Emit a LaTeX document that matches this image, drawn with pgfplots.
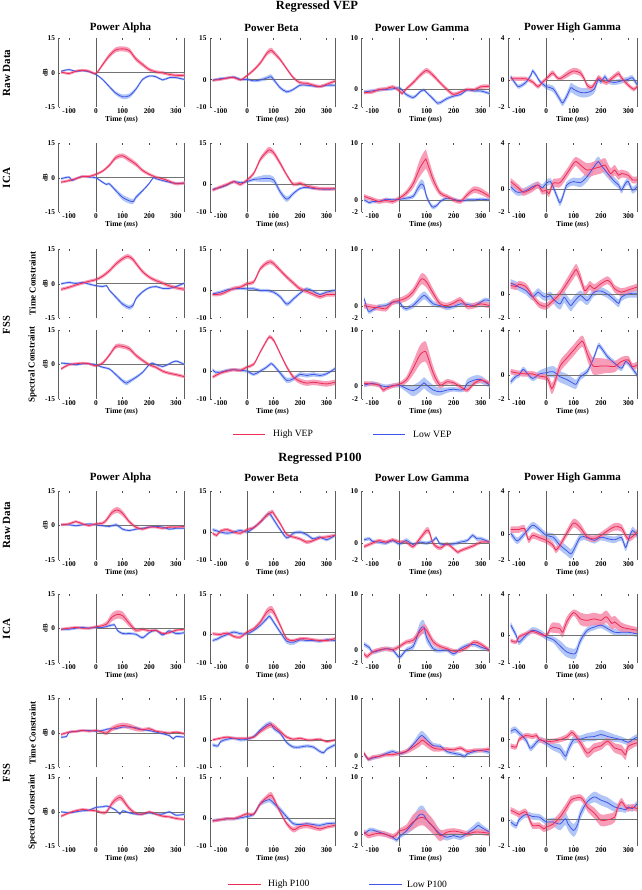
\documentclass[border=0pt]{standalone}
\usepackage{fontspec}
\setmainfont{Liberation Serif}
\usepackage{pgfplots}
\pgfplotsset{compat=1.18}
\usepgfplotslibrary{fillbetween}
\definecolor{rl}{RGB}{236,45,85}
\definecolor{rb}{RGB}{247,140,172}
\definecolor{bl}{RGB}{65,85,232}
\definecolor{bb}{RGB}{168,192,246}
\definecolor{axc}{RGB}{95,95,95}
\newcommand{\fs}[1]{\fontsize{#1}{#1}\selectfont}
\pgfplotsset{
 panel/.style={scale only axis, height=69pt, anchor=north west,
  xmin=-140, xmax=332, xtick={-100,0,100,200,300}, xticklabels={},
  axis line style={draw=none},
  extra x ticks={-140,332}, extra x tick labels={},
  extra x tick style={grid=major, major grid style={draw=axc, line width=0.8pt}, major tick length=0pt},
  xtick pos=both, ytick pos=left, tick align=inside, major tick length=1.6pt,
  tick style={draw=black!70, line width=0.5pt},
  tick label style={font=\fs{7.3}\bfseries},
  xlabel style={font=\fs{7.6}\bfseries, inner sep=1pt},
  ylabel style={font=\fs{6.8}\bfseries, inner sep=1pt},
  ylabel shift=-7pt,
  xticklabel style={inner sep=1.5pt}},
 cA/.style={width=126pt, yticklabels={-15,0,15}, ylabel={dB}},
 cB/.style={width=125pt, yticklabels={-10,0,15}},
 cC/.style={width=128pt, yticklabels={-2,0,10}},
 cD/.style={width=129pt, yticklabels={-2,0,4}},
 xl/.style={xticklabels={-100,0,100,200,300}, xlabel={Time (\textit{ms})}},
 zl/.style={draw=axc, line width=0.6pt, forget plot},
}
\newcommand{\panel}[5]{%
\begin{axis}[panel, ymin=#2, ymax=#3, ytick={#2,0,#3}, #1]
\addplot[zl] coordinates {(0,#2) (0,#3)};
\addplot[zl, draw=black!55] coordinates {(0,0) (332,0)};
\addplot[draw=none, name path=bu, smooth, forget plot] table[row sep=\\, y expr=\thisrow{y}+\thisrow{e}] {#5};
\addplot[draw=none, name path=bd, smooth, forget plot] table[row sep=\\, y expr=\thisrow{y}-\thisrow{e}] {#5};
\addplot[fill=bb, draw=none, fill opacity=0.9] fill between[of=bu and bd];
\addplot[draw=none, name path=ru, smooth, forget plot] table[row sep=\\, y expr=\thisrow{y}+\thisrow{e}] {#4};
\addplot[draw=none, name path=rd, smooth, forget plot] table[row sep=\\, y expr=\thisrow{y}-\thisrow{e}] {#4};
\addplot[fill=rb, draw=none, fill opacity=0.85] fill between[of=ru and rd];
\addplot[bl, line width=0.8pt, smooth] table[row sep=\\] {#5};
\addplot[rl, line width=0.8pt, smooth] table[row sep=\\] {#4};
\end{axis}}
\begin{document}
\begin{tikzpicture}
\path (0,0) rectangle (641pt,-890pt);
% ---------------- titles ----------------
\node[inner sep=0pt, font=\fs{12.5}\bfseries] at (317pt,-6.5pt) {Regressed VEP};
\node[inner sep=0pt, font=\fs{12.5}\bfseries] at (320pt,-459pt) {Regressed P100};
\foreach \yy in {27.5,478} {
 \node[inner sep=0pt, font=\fs{11}\bfseries] at (120.5pt,-\yy pt) {Power Alpha};
 \node[inner sep=0pt, font=\fs{11}\bfseries] at (271.5pt,-\yy pt) {Power Beta};
 \node[inner sep=0pt, font=\fs{11}\bfseries] at (422pt,-\yy pt) {Power Low Gamma};
 \node[inner sep=0pt, font=\fs{11}\bfseries] at (572.5pt,-\yy pt) {Power High Gamma};
}
\node[inner sep=0pt, rotate=90, font=\fs{11}\bfseries] at (6.5pt,-73pt) {Raw Data};
\node[inner sep=0pt, rotate=90, font=\fs{11}\bfseries] at (6.5pt,-178pt) {ICA};
\node[inner sep=0pt, rotate=90, font=\fs{10.5}\bfseries] at (6.5pt,-325pt) {FSS};
\node[inner sep=0pt, rotate=90, font=\fs{9}\bfseries] at (32.5pt,-283.5pt) {Time Constraint};
\node[inner sep=0pt, rotate=90, font=\fs{9}\bfseries] at (32.5pt,-364.5pt) {Spectral Constraint};
\node[inner sep=0pt, rotate=90, font=\fs{11}\bfseries] at (6.5pt,-525pt) {Raw Data};
\node[inner sep=0pt, rotate=90, font=\fs{11}\bfseries] at (6.5pt,-629pt) {ICA};
\node[inner sep=0pt, rotate=90, font=\fs{10.5}\bfseries] at (6.5pt,-773pt) {FSS};
\node[inner sep=0pt, rotate=90, font=\fs{9}\bfseries] at (32.5pt,-733pt) {Time Constraint};
\node[inner sep=0pt, rotate=90, font=\fs{9}\bfseries] at (32.5pt,-812pt) {Spectral Constraint};
% legends
\draw[rl, line width=0.9pt] (233pt,-434pt) -- (265pt,-434pt);
\node[anchor=west, font=\fs{9.6}, inner sep=0pt] at (273pt,-434pt) {High VEP};
\draw[bl, line width=0.9pt] (373pt,-434pt) -- (405pt,-434pt);
\node[anchor=west, font=\fs{9.6}, inner sep=0pt] at (413pt,-434pt) {Low VEP};
\draw[rl, line width=0.9pt] (228pt,-884pt) -- (261pt,-884pt);
\node[anchor=west, font=\fs{9.6}, inner sep=0pt] at (268pt,-884pt) {High P100};
\draw[bl, line width=0.9pt] (369pt,-884pt) -- (402pt,-884pt);
\node[anchor=west, font=\fs{9.6}, inner sep=0pt] at (407pt,-884pt) {Low P100};
% ================= Regressed VEP =================
% Row 1 Raw Data
\panel{cA, xl, at={(58.5pt,-38.3pt)}}{-15}{15}
{x y e\\ -130 0.3 .6\\ -100 -0.3 .6\\ -75 0.7 .6\\ -50 1.1 .6\\ -25 0.7 .6\\ 0 -0.3 .6\\ 25 3.5 .8\\ 50 7.4 1\\ 75 10 1.1\\ 100 10.4 1.1\\ 125 9.7 1.1\\ 150 6 1\\ 175 3.6 .9\\ 200 1.4 .8\\ 225 0.4 .7\\ 250 0 .7\\ 275 -0.7 .7\\ 300 -1.1 .7\\ 332 -1.1 .7\\}
{x y e\\ -130 0.7 .4\\ -100 1.4 .4\\ -75 0.6 .4\\ -50 0.9 .4\\ -25 0.4 .4\\ 0 -0.7 .4\\ 25 -2.9 .5\\ 50 -6 .6\\ 75 -8.9 .8\\ 100 -10.4 1\\ 125 -10 1\\ 150 -7.1 .8\\ 175 -2.9 .6\\ 200 -1.4 .5\\ 225 -1.7 .5\\ 250 -3.1 .5\\ 275 -2.1 .5\\ 300 -2.1 .5\\ 332 -2.9 .5\\}
\panel{cB, xl, at={(210pt,-38.3pt)}}{-10}{15}
{x y e\\ -130 -0.2 .5\\ -100 0.1 .5\\ -75 0.6 .5\\ -50 0.8 .5\\ -25 -0.1 .5\\ 0 1.5 .5\\ 25 3.5 .6\\ 50 6.1 .7\\ 75 9.6 .9\\ 90 10.6 1\\ 100 9.9 .9\\ 125 7.3 .7\\ 150 3.9 .6\\ 175 0.7 .6\\ 200 -1.1 .6\\ 225 -1.3 .6\\ 250 -2 .6\\ 275 -2.5 .6\\ 300 -1.7 .6\\ 332 -0.5 .6\\}
{x y e\\ -130 -0.2 .5\\ -100 0.4 .5\\ -75 0.6 .5\\ -50 1 .5\\ -25 0.1 .5\\ 0 0.1 .5\\ 25 -0.4 .5\\ 50 -0.1 .6\\ 75 0.6 .8\\ 90 1.1 .9\\ 100 0.1 .8\\ 125 -2.9 .6\\ 150 -4.4 .6\\ 175 -3.5 .5\\ 200 -2 .5\\ 225 -2 .5\\ 250 -2.3 .5\\ 275 -2.5 .5\\ 300 -2 .5\\ 332 -2 .5\\}
\panel{cC, xl, at={(361.5pt,-38.3pt)}}{-3.5}{10}
{x y e\\ -130 -0.6 .35\\ -100 -0.5 .35\\ -75 0 .35\\ -50 0.1 .35\\ -25 0.5 .35\\ 0 -0.3 .35\\ 10 -0.8 .35\\ 25 0.1 .35\\ 50 1.3 .4\\ 75 2.7 .45\\ 100 3.7 .5\\ 125 2.7 .45\\ 150 1.3 .4\\ 175 0 .4\\ 200 -1 .4\\ 225 -0.5 .35\\ 250 0 .35\\ 275 -0.1 .35\\ 300 0.5 .4\\ 332 0.6 .4\\}
{x y e\\ -130 -0.5 .35\\ -100 -0.3 .35\\ -75 -0.1 .35\\ -50 0 .3\\ -25 0.1 .3\\ 0 0.3 .3\\ 25 -1 .35\\ 50 -1.6 .35\\ 60 -1.3 .35\\ 75 -0.5 .3\\ 90 -0.1 .3\\ 100 -0.6 .3\\ 125 -1.9 .35\\ 140 -2.7 .35\\ 150 -2.6 .35\\ 175 -1.8 .35\\ 200 -1.3 .3\\ 225 -1 .3\\ 250 -0.1 .3\\ 275 -0.3 .3\\ 300 -0.3 .3\\ 332 -0.8 .3\\}
\panel{cD, xl, at={(508pt,-38.3pt)}}{-2.56}{4}
{x y e\\ -130 0.15 .2\\ -100 0.15 .2\\ -75 0.15 .2\\ -50 -0.15 .2\\ -30 -0.6 .2\\ -15 -0.2 .2\\ 0 0.15 .2\\ 15 0.55 .25\\ 25 0.7 .25\\ 40 0.25 .2\\ 50 0.15 .2\\ 75 0.55 .3\\ 100 0.9 .3\\ 125 0.7 .3\\ 140 0.1 .25\\ 150 -0.5 .25\\ 165 -0.7 .25\\ 175 -0.4 .25\\ 190 0.25 .25\\ 200 0.1 .25\\ 220 -0.2 .25\\ 250 0.4 .25\\ 265 0.65 .25\\ 275 0.25 .25\\ 300 -0.45 .2\\ 320 -0.85 .2\\ 332 -0.6 .2\\}
{x y e\\ -130 0.35 .2\\ -110 -0.4 .2\\ -100 -0.6 .2\\ -75 -0.2 .2\\ -55 0.55 .2\\ -50 0.9 .2\\ -35 0.4 .2\\ -25 -0.05 .2\\ 0 -0.6 .25\\ 25 -0.8 .3\\ 50 -1.8 .3\\ 60 -2.15 .3\\ 75 -1.5 .35\\ 90 -0.7 .45\\ 100 -0.85 .45\\ 125 -1.15 .45\\ 150 -1.15 .45\\ 175 -0.85 .4\\ 190 0.1 .3\\ 200 -0.15 .25\\ 215 0.35 .25\\ 225 -0.05 .25\\ 250 -0.2 .25\\ 275 -0.05 .25\\ 300 0.1 .25\\ 315 0.25 .25\\ 332 -0.4 .25\\}
% Row 2 ICA
\panel{cA, xl, at={(58.5pt,-143.3pt)}}{-15}{15}
{x y e\\ -130 -1.9 .6\\ -100 -1.2 .6\\ -75 -0.4 .6\\ -50 0.6 .6\\ -25 0.6 .6\\ 0 1.5 .6\\ 25 2.9 .6\\ 50 5.4 .8\\ 75 8.8 1\\ 100 9.6 1\\ 125 7.9 1.1\\ 150 5.9 1\\ 175 3.2 .8\\ 200 1.5 .7\\ 225 0.3 .6\\ 250 -0.4 .7\\ 275 -1.5 .7\\ 300 -2.6 .7\\ 332 -2.2 .7\\}
{x y e\\ -130 -0.4 .5\\ -100 0.3 .5\\ -90 -1.2 .5\\ -75 -0.4 .5\\ -50 0.6 .5\\ -25 0.3 .5\\ 0 0 .5\\ 25 -1.9 .5\\ 40 -2.9 .5\\ 50 -2.6 .6\\ 75 -5.6 .8\\ 100 -8.5 1.2\\ 125 -10 1.2\\ 140 -10.3 1.1\\ 150 -8.5 .9\\ 175 -5.6 .6\\ 200 -2.4 .5\\ 215 0 .5\\ 225 -0.4 .5\\ 250 -1.2 .5\\ 275 -1.9 .5\\ 300 -2.4 .5\\ 332 -2.4 .5\\}
\panel{cB, xl, at={(210pt,-143.3pt)}}{-10.2}{15}
{x y e\\ -130 -2.1 .6\\ -100 -0.9 .6\\ -75 0 .6\\ -50 1 .6\\ -25 0 .6\\ 0 1.6 .6\\ 25 4 .7\\ 50 9.1 .9\\ 75 12 1.1\\ 85 12.6 1.1\\ 100 11.6 1\\ 125 7.7 .9\\ 150 3.4 .7\\ 175 0 .7\\ 200 0.4 .7\\ 225 -0.6 .7\\ 250 -1.2 .7\\ 275 -1.6 .7\\ 300 -1.6 .7\\ 332 -1.6 .7\\}
{x y e\\ -130 -1.8 .5\\ -100 -1.1 .5\\ -75 -0.2 .5\\ -50 1 .5\\ -25 0.6 .5\\ 0 1 .5\\ 25 1.8 .7\\ 50 2 1.1\\ 75 2.2 1.3\\ 100 1.6 1.2\\ 125 -2.7 1\\ 150 -5.4 1\\ 175 -3.3 .7\\ 200 -1.5 .5\\ 225 -1.1 .5\\ 250 -1.5 .5\\ 300 -1.8 .5\\ 332 -1.6 .5\\}
\panel{cC, xl, at={(361.5pt,-143.3pt)}}{-2.2}{10}
{x y e\\ -130 0.6 .4\\ -100 0.1 .4\\ -75 -0.3 .4\\ -50 -0.1 .4\\ -25 -0.3 .4\\ 0 0.3 .4\\ 25 1.2 .5\\ 50 2.8 .8\\ 75 5.6 1.5\\ 95 7.1 1.7\\ 100 6.9 1.6\\ 125 3.5 1\\ 150 1.2 .5\\ 175 0.6 .4\\ 200 0 .4\\ 225 -0.3 .4\\ 250 0.9 .5\\ 275 1.8 .6\\ 300 1.5 .6\\ 332 0.6 .5\\}
{x y e\\ -130 0 .3\\ -110 -0.5 .3\\ -100 -0.3 .3\\ -75 -0.3 .3\\ -50 0.1 .3\\ -25 0 .3\\ 0 0.1 .3\\ 25 0.3 .3\\ 50 0.6 .4\\ 65 1.8 .7\\ 80 2.8 .8\\ 90 2.4 .8\\ 100 0.6 .5\\ 115 -0.9 .4\\ 125 -1.3 .4\\ 140 -0.9 .3\\ 150 -0.3 .3\\ 175 0.3 .3\\ 200 0.1 .3\\ 225 -0.2 .3\\ 250 0 .3\\ 275 0 .3\\ 300 0.1 .3\\ 332 0 .3\\}
\panel{cD, xl, at={(508pt,-143.3pt)}}{-2.04}{4}
{x y e\\ -130 0.65 .3\\ -100 0.05 .3\\ -85 -0.3 .3\\ -75 -0.25 .3\\ -50 0.05 .3\\ -30 0.35 .3\\ -15 -0.2 .3\\ 0 -0.1 .3\\ 10 -0.4 .3\\ 25 0.5 .35\\ 50 0.55 .4\\ 75 1.35 .4\\ 100 2.25 .4\\ 110 2.4 .4\\ 125 2.1 .5\\ 150 1.65 .6\\ 175 1.8 .6\\ 200 1.95 .6\\ 215 2.1 .6\\ 235 1.35 .5\\ 250 1.65 .45\\ 265 1.2 .4\\ 275 1.35 .35\\ 300 1.2 .3\\ 315 0.8 .3\\ 332 0.8 .3\\}
{x y e\\ -130 0.2 .3\\ -110 -0.25 .3\\ -100 -0.3 .3\\ -75 -0.15 .3\\ -50 0.2 .3\\ -30 0.35 .3\\ -15 0.1 .3\\ 0 0.5 .3\\ 15 0.65 .3\\ 25 0.2 .3\\ 40 -0.7 .3\\ 50 -1.2 .3\\ 60 -0.7 .3\\ 75 0.35 .3\\ 100 0.65 .35\\ 125 0.55 .4\\ 150 1.1 .45\\ 175 1.95 .45\\ 190 2.4 .45\\ 200 2.1 .45\\ 225 1.35 .4\\ 250 0.65 .35\\ 265 0.35 .3\\ 275 -0.1 .3\\ 290 0.5 .3\\ 300 0.65 .3\\ 315 -0.1 .3\\ 332 0.2 .3\\}
% Row 3 FSS time
\panel{cA, at={(58.5pt,-249.3pt)}}{-15}{15}
{x y e\\ -130 -2.4 .7\\ -100 -1.5 .7\\ -75 -0.5 .7\\ -50 0.3 .7\\ -25 1.1 .7\\ 0 1.8 .7\\ 25 3.3 .8\\ 50 5.6 .9\\ 75 8.6 1\\ 100 10.9 1\\ 120 12 1\\ 140 10.5 1\\ 150 8.9 1\\ 175 5.3 .9\\ 200 2.9 .8\\ 225 1.4 .8\\ 250 0.3 .8\\ 275 -0.9 .8\\ 300 -1.7 .8\\ 332 -2.4 .8\\}
{x y e\\ -130 0 .5\\ -100 0.6 .5\\ -75 0.15 .5\\ -50 0.6 .5\\ -25 -0.15 .5\\ 0 -0.8 .5\\ 25 -1.2 .5\\ 40 -0.8 .5\\ 50 -2.7 .6\\ 75 -5.8 .7\\ 100 -8.8 .9\\ 125 -10.3 1\\ 140 -9.2 1\\ 150 -6.5 .8\\ 175 -3.5 .6\\ 200 -1.7 .5\\ 225 -1.2 .5\\ 250 -2 .5\\ 275 -2 .5\\ 300 -1.2 .5\\ 332 0.3 .5\\}
\panel{cB, at={(210pt,-249.3pt)}}{-10.3}{15}
{x y e\\ -130 -1.6 .7\\ -100 -1.4 .7\\ -75 -0.4 .7\\ -50 0.7 .7\\ -25 1.1 .7\\ 0 2.4 .7\\ 25 3 .7\\ 50 7.9 .8\\ 75 10 .9\\ 90 10.4 .9\\ 100 9.8 .9\\ 125 7.3 .8\\ 150 4.8 .8\\ 175 2.6 .8\\ 200 0.5 .8\\ 225 -0.4 .8\\ 250 -1.4 .8\\ 275 -2.4 .8\\ 300 -1.6 .8\\ 332 -1.6 .8\\}
{x y e\\ -130 -1.4 .6\\ -100 -0.7 .6\\ -75 0.1 .6\\ -50 0.5 .6\\ -25 0.7 .6\\ 0 0.5 .6\\ 25 0.5 .6\\ 50 -0.1 .6\\ 75 -0.1 .6\\ 100 -0.7 .6\\ 125 -2.4 .7\\ 150 -5.1 .8\\ 175 -3.2 .7\\ 200 -1.1 .6\\ 225 0.5 .6\\ 250 -0.4 .6\\ 275 -1.6 .6\\ 300 -0.7 .6\\ 332 -0.1 .6\\}
\panel{cC, at={(361.5pt,-249.3pt)}}{-2.2}{10}
{x y e\\ -130 0.05 .5\\ -100 -0.25 .5\\ -75 -0.35 .5\\ -50 -0.5 .5\\ -25 0.65 .5\\ 0 0.95 .5\\ 25 1.4 .6\\ 50 2.45 .7\\ 75 4.4 .9\\ 85 4.8 1\\ 100 4.2 1\\ 125 2.15 .8\\ 150 0.35 .6\\ 175 0.05 .5\\ 200 0.5 .5\\ 225 1.05 .5\\ 250 -0.1 .5\\ 275 0.05 .5\\ 300 0.35 .5\\ 332 0.05 .5\\}
{x y e\\ -130 1.25 .4\\ -115 -0.95 .4\\ -100 -0.7 .4\\ -75 -0.1 .4\\ -50 0.05 .4\\ -25 0.65 .4\\ 0 0.65 .4\\ 10 -0.1 .4\\ 25 -0.5 .4\\ 50 0.05 .5\\ 75 1.25 .7\\ 90 1.85 .7\\ 100 1.55 .7\\ 125 0.35 .5\\ 150 0.05 .4\\ 175 -0.35 .4\\ 200 -0.1 .4\\ 225 0.35 .4\\ 250 0.25 .4\\ 275 0.05 .4\\ 300 0.65 .4\\ 315 1.05 .4\\ 332 0.95 .4\\}
\panel{cD, at={(508pt,-249.3pt)}}{-2.12}{4}
{x y e\\ -130 0.8 .3\\ -110 0.7 .3\\ -100 0.9 .3\\ -75 0.7 .3\\ -60 0.2 .3\\ -50 -0.2 .3\\ -25 -0.9 .3\\ 0 -1.05 .3\\ 25 -0.55 .3\\ 50 0.05 .35\\ 75 0.95 .45\\ 100 1.9 .5\\ 110 2.2 .5\\ 125 1.4 .5\\ 140 0.35 .4\\ 150 0.5 .4\\ 160 0.8 .4\\ 175 0.5 .4\\ 200 0.95 .35\\ 225 1.25 .35\\ 240 0.9 .35\\ 250 0.5 .35\\ 275 0.2 .35\\ 300 0.4 .3\\ 332 0.65 .3\\}
{x y e\\ -130 1 .35\\ -110 0.8 .35\\ -100 0.65 .35\\ -75 0.35 .35\\ -50 -0.2 .35\\ -30 0.2 .35\\ -15 -0.1 .35\\ 0 -0.25 .35\\ 15 -0.1 .35\\ 25 -0.4 .4\\ 50 -0.85 .5\\ 65 -0.25 .5\\ 75 -0.55 .5\\ 90 -1 .5\\ 100 -0.7 .5\\ 125 -0.1 .45\\ 150 -0.55 .4\\ 175 0.2 .35\\ 200 0.3 .35\\ 225 0 .35\\ 250 -0.5 .35\\ 265 -0.8 .35\\ 275 -0.25 .35\\ 300 0.05 .35\\ 332 0.05 .35\\}
% Row 4 FSS spectral
\panel{cA, xl, at={(58.5pt,-330pt)}}{-15}{15}
{x y e\\ -130 -1.9 .6\\ -100 0 .6\\ -75 0.3 .6\\ -50 0.6 .6\\ -25 0.3 .6\\ 0 -0.6 .6\\ 25 0.6 .7\\ 50 4 .8\\ 75 7.9 1\\ 100 7.9 1\\ 125 6.9 1\\ 150 4 .9\\ 175 1.8 .8\\ 200 -0.1 .7\\ 225 -1.2 .7\\ 250 -2.9 .7\\ 275 -3.8 .7\\ 300 -4.4 .7\\ 332 -5.3 .7\\}
{x y e\\ -130 0.6 .5\\ -100 0.3 .5\\ -75 -0.1 .5\\ -50 0.3 .5\\ -25 0.3 .5\\ 0 -0.1 .5\\ 25 -1.2 .5\\ 50 -1.9 .5\\ 75 -4.4 .7\\ 100 -7.1 .9\\ 115 -8.1 1\\ 125 -7.4 .9\\ 150 -5.6 .7\\ 175 -3.4 .6\\ 200 0 .5\\ 210 0.6 .5\\ 225 0 .5\\ 250 -0.9 .5\\ 275 0.3 .5\\ 300 1.5 .5\\ 332 0 .5\\}
\panel{cB, xl, at={(210pt,-330pt)}}{-10.2}{15}
{x y e\\ -130 -2.2 .6\\ -100 -0.7 .6\\ -75 0 .6\\ -50 0.5 .6\\ -25 0.25 .6\\ 0 1.5 .6\\ 25 2.5 .6\\ 50 7 .6\\ 75 11.3 .7\\ 85 12.5 .7\\ 100 11.3 .7\\ 125 6.4 .6\\ 150 1.5 .7\\ 175 -2.2 .8\\ 200 -3.7 1\\ 225 -4.4 1\\ 250 -4.1 1\\ 275 -4.4 1\\ 300 -4.7 1\\ 332 -4.1 1\\}
{x y e\\ -130 0.5 .6\\ -120 -0.4 .6\\ -100 -0.4 .6\\ -75 0.25 .6\\ -50 0.5 .6\\ -25 0.25 .6\\ 0 0 .6\\ 25 -1.2 .6\\ 50 0 .6\\ 75 1.5 .6\\ 90 2.7 .6\\ 100 2.1 .6\\ 125 -0.7 .8\\ 150 -3.4 1\\ 175 -2.8 .8\\ 200 -1.2 .8\\ 225 -1.6 .8\\ 250 -1.2 .8\\ 275 -1.6 .7\\ 300 -1 .6\\ 332 0.9 .6\\}
\panel{cC, xl, at={(361.5pt,-330pt)}}{-2.4}{10}
{x y e\\ -130 0.4 .4\\ -100 0.3 .4\\ -75 0.1 .4\\ -60 -0.8 .4\\ -50 -0.5 .4\\ -25 -0.05 .4\\ 0 0.25 .4\\ 25 1 .6\\ 50 3.1 1.2\\ 75 5.5 1.7\\ 90 6.1 1.8\\ 100 5.8 1.8\\ 125 2.2 1.2\\ 150 0.1 .6\\ 175 0.7 .5\\ 200 0.5 .4\\ 225 -0.2 .4\\ 250 -0.8 .4\\ 275 0.4 .4\\ 300 1 .4\\ 332 0.4 .4\\}
{x y e\\ -130 0.1 .4\\ -100 0.4 .4\\ -75 0.1 .4\\ -50 -0.2 .4\\ -25 0 .4\\ 0 0.1 .4\\ 25 -0.5 .6\\ 50 -0.9 1\\ 75 -0.2 1\\ 90 0.5 1\\ 100 0.1 1\\ 125 -0.8 .9\\ 150 -1.1 .7\\ 175 -0.8 .5\\ 200 -0.65 .4\\ 225 -0.8 .4\\ 240 -0.5 .5\\ 250 0.4 .8\\ 275 1 .8\\ 300 1.1 .7\\ 332 0.1 .5\\}
\panel{cD, xl, at={(508pt,-330pt)}}{-2.13}{4}
{x y e\\ -130 0.3 .25\\ -100 0.15 .25\\ -75 0.1 .25\\ -50 0.1 .25\\ -25 -0.1 .25\\ 0 -0.2 .3\\ 10 -0.6 .45\\ 20 -1.2 .5\\ 30 -0.75 .5\\ 50 0.75 .5\\ 75 1.5 .5\\ 100 2.2 .5\\ 125 2.9 .5\\ 135 2.95 .5\\ 150 1.9 .6\\ 165 1.05 .7\\ 175 0.75 .75\\ 200 0.8 .7\\ 225 0.8 .6\\ 250 0.75 .5\\ 275 1.2 .4\\ 300 1.35 .35\\ 315 0.75 .3\\ 332 0.9 .3\\}
{x y e\\ -130 -0.6 .25\\ -110 -0.1 .25\\ -100 0 .25\\ -85 0.5 .25\\ -75 0.3 .25\\ -50 -0.3 .25\\ -25 0.1 .3\\ 0 0.2 .45\\ 25 0.3 .5\\ 50 -0.15 .5\\ 75 -0.4 .5\\ 100 -0.75 .45\\ 110 -0.8 .4\\ 125 -0.15 .3\\ 150 0.3 .25\\ 175 1.6 .25\\ 190 2.6 .25\\ 200 2.45 .25\\ 225 1.6 .25\\ 250 1.05 .25\\ 275 0.6 .25\\ 290 1.2 .25\\ 300 1.05 .25\\ 315 0.6 .25\\ 332 0 .25\\}
% ================= Regressed P100 =================
% Row 1
\panel{cA, xl, at={(58.5pt,-491pt)}}{-15}{15}
{x y e\\ -130 0.3 .6\\ -100 0.7 .6\\ -75 1.7 .6\\ -50 0.7 .6\\ -25 0 .6\\ 0 0.7 .6\\ 25 1 .7\\ 40 2.5 .9\\ 60 5.6 1.2\\ 80 6.8 1.3\\ 100 5.3 1.2\\ 125 1.7 .9\\ 150 -0.7 .7\\ 175 -1.6 .6\\ 200 -0.7 .6\\ 225 -0.7 .6\\ 250 -1.2 .6\\ 275 -0.7 .6\\ 300 -0.7 .6\\ 332 -0.4 .6\\}
{x y e\\ -130 0.3 .5\\ -100 0.3 .5\\ -75 -0.1 .5\\ -50 0.3 .5\\ -25 0.7 .5\\ 0 0.3 .5\\ 25 -0.1 .5\\ 50 -0.4 .5\\ 75 0.3 .7\\ 90 -0.7 .7\\ 100 -1.6 .6\\ 125 -2.2 .5\\ 150 -1.6 .5\\ 175 -1.2 .5\\ 200 -0.7 .5\\ 225 -0.4 .5\\ 250 -0.7 .5\\ 275 -1.6 .5\\ 300 -1.2 .5\\ 332 -1.2 .5\\}
\panel{cB, xl, at={(210pt,-491pt)}}{-10.2}{15}
{x y e\\ -130 -0.4 .6\\ -115 -1.2 .6\\ -100 0.4 .6\\ -75 0.9 .6\\ -50 0 .6\\ -25 -0.4 .6\\ 0 0.9 .6\\ 25 1.6 .6\\ 50 3.7 .7\\ 75 6.2 .8\\ 95 7.4 .8\\ 100 6.8 .8\\ 125 3.1 .7\\ 150 -0.9 .6\\ 175 -1.8 .6\\ 200 -2.5 .6\\ 225 -3.7 .7\\ 250 -3.1 .6\\ 275 -2.1 .6\\ 300 -1.8 .6\\ 332 -1.2 .6\\}
{x y e\\ -130 0.9 .6\\ -100 0 .6\\ -75 -0.4 .6\\ -50 0 .6\\ -25 0.6 .6\\ 0 0 .6\\ 25 1.6 .6\\ 50 3.7 .7\\ 75 6.2 .9\\ 85 6.8 .9\\ 100 4.6 .8\\ 125 0.9 .7\\ 150 -2.1 .6\\ 175 -0.4 .6\\ 200 0 .6\\ 225 -0.9 .6\\ 250 -2.5 .6\\ 275 -1.8 .6\\ 300 -2.8 .6\\ 332 -1.2 .6\\}
\panel{cC, xl, at={(361.5pt,-491pt)}}{-3.3}{10}
{x y e\\ -130 -0.7 .35\\ -100 -0.05 .35\\ -75 0.45 .35\\ -50 0.15 .35\\ -25 0.6 .35\\ 0 0.15 .35\\ 25 0.15 .35\\ 50 -0.7 .4\\ 75 0.8 .5\\ 100 2.4 .6\\ 110 2.1 .6\\ 125 -0.2 .45\\ 150 -1 .4\\ 175 -0.2 .35\\ 200 -1.15 .35\\ 215 -1.8 .35\\ 225 -1.5 .35\\ 250 -1 .35\\ 275 -0.5 .35\\ 300 0.15 .35\\ 332 0.15 .35\\}
{x y e\\ -130 0.6 .35\\ -110 0.8 .35\\ -100 0.3 .35\\ -75 0.15 .35\\ -50 -0.05 .35\\ -25 0.45 .35\\ 0 -0.2 .35\\ 25 0.45 .45\\ 50 -0.3 .35\\ 75 0.15 .35\\ 100 -0.05 .35\\ 125 0.45 .35\\ 135 1 .35\\ 150 -0.2 .35\\ 175 -0.3 .35\\ 200 -0.2 .35\\ 225 0.15 .35\\ 250 0.45 .35\\ 270 1.45 .4\\ 285 0.8 .4\\ 300 0.8 .4\\ 332 0.15 .35\\}
\panel{cD, xl, at={(508pt,-491pt)}}{-2.36}{4}
{x y e\\ -130 0.45 .3\\ -100 0.45 .3\\ -80 0.55 .3\\ -65 -0.5 .3\\ -50 -0.1 .3\\ -25 -0.3 .3\\ 0 -0.55 .3\\ 25 -1 .3\\ 35 -1.45 .3\\ 50 -1 .3\\ 75 0.1 .35\\ 100 1.05 .4\\ 125 0.6 .4\\ 150 -0.25 .3\\ 175 -0.4 .3\\ 200 -0.1 .3\\ 225 0.35 .3\\ 250 0.7 .35\\ 275 0.6 .35\\ 300 -0.4 .3\\ 332 0.2 .3\\}
{x y e\\ -130 0.1 .3\\ -110 -0.55 .3\\ -100 -0.5 .3\\ -75 0.2 .3\\ -50 0.85 .3\\ -25 0.45 .3\\ 0 -0.1 .3\\ 25 -0.25 .35\\ 50 -1 .45\\ 75 -1.5 .45\\ 90 -1.8 .45\\ 100 -1.45 .45\\ 125 -0.25 .35\\ 150 -0.3 .3\\ 175 -0.55 .3\\ 200 -0.25 .3\\ 225 -0.4 .3\\ 250 -0.5 .3\\ 275 -0.3 .3\\ 290 -1.2 .35\\ 300 -0.55 .35\\ 315 0.35 .35\\ 332 -0.1 .3\\}
% Row 2
\panel{cA, xl, at={(58.5pt,-594pt)}}{-15}{15}
{x y e\\ -130 -0.3 .6\\ -100 0.15 .6\\ -75 0.45 .6\\ -50 0.15 .6\\ -25 0.15 .6\\ 0 0.75 .6\\ 25 1.2 .8\\ 40 1.9 1.2\\ 60 4.9 1.8\\ 80 6.1 1.8\\ 100 5.6 1.8\\ 125 2.2 1.4\\ 150 -0.75 .9\\ 175 -0.3 .7\\ 200 -1 .6\\ 225 -0.75 .6\\ 250 -2.2 .6\\ 275 -1.8 .6\\ 300 -0.75 .6\\ 332 -0.3 .6\\}
{x y e\\ -130 -0.3 .6\\ -100 -0.3 .6\\ -75 0.15 .6\\ -50 0.45 .6\\ -25 0.15 .6\\ 0 0.45 .6\\ 25 0.45 .6\\ 50 1.2 .6\\ 70 1.6 .6\\ 80 -0.75 .6\\ 100 -2.2 .6\\ 125 -2.2 .6\\ 150 -2.5 .6\\ 175 -4 .7\\ 200 -1.8 .6\\ 225 -0.75 .6\\ 250 -2.8 .6\\ 275 -1 .6\\ 300 -2.2 .6\\ 332 -1.8 .6\\}
\panel{cB, xl, at={(210pt,-594pt)}}{-10.6}{15}
{x y e\\ -130 0.25 .6\\ -100 0 .6\\ -75 0.5 .6\\ -50 -0.75 .6\\ -25 -1 .6\\ 0 0.9 .6\\ 25 2.1 .7\\ 50 4.6 .9\\ 75 8.4 1.3\\ 90 9.25 1.3\\ 100 8.4 1.3\\ 125 3.4 .9\\ 150 -1.6 .6\\ 175 -2.25 .6\\ 200 -1.6 .6\\ 225 -1.6 .6\\ 250 -2 .6\\ 275 -2.25 .6\\ 300 -2.25 .6\\ 332 -1.6 .6\\}
{x y e\\ -130 -2.25 .6\\ -110 -1.6 .6\\ -100 -1 .6\\ -75 0 .6\\ -50 0.9 .6\\ -25 0.25 .6\\ 0 0.25 .6\\ 25 1.5 .6\\ 50 3.4 .7\\ 75 5.9 .8\\ 85 6.75 .8\\ 100 4.6 .8\\ 125 0.9 .8\\ 150 -2.5 1\\ 175 -2.9 1\\ 200 -2 .7\\ 225 -2.25 .6\\ 250 -2.25 .6\\ 275 -2.5 .6\\ 300 -2 .6\\ 332 -2.25 .6\\}
\panel{cC, xl, at={(361.5pt,-594pt)}}{-2.35}{10}
{x y e\\ -130 -0.7 .4\\ -120 -1.2 .4\\ -100 -0.4 .4\\ -75 0 .4\\ -50 0.2 .4\\ -25 0 .4\\ 0 0.6 .4\\ 25 1.4 .4\\ 50 1.7 .5\\ 75 3.2 .8\\ 90 3.8 .8\\ 100 3.5 .8\\ 125 1.4 .6\\ 150 0.6 .4\\ 175 0.2 .4\\ 200 -0.25 .4\\ 225 -0.1 .4\\ 250 0.5 .4\\ 275 1.4 .4\\ 300 1 .4\\ 332 -0.1 .4\\}
{x y e\\ -130 1 .4\\ -110 0.35 .4\\ -100 -0.4 .4\\ -75 -0.1 .4\\ -50 0.2 .4\\ -25 0 .4\\ 0 -1.3 .4\\ 25 0 .4\\ 50 0.6 .6\\ 75 3.6 1.2\\ 90 4.1 1.2\\ 100 2.3 1\\ 125 0.2 .5\\ 150 -0.1 .4\\ 175 0 .4\\ 200 -0.7 .4\\ 225 0.2 .4\\ 250 0.8 .4\\ 275 1 .4\\ 300 0.5 .4\\ 332 0 .4\\}
\panel{cD, xl, at={(508pt,-594pt)}}{-2.67}{4}
{x y e\\ -130 -0.5 .2\\ -110 -0.65 .2\\ -100 -0.15 .2\\ -75 0.15 .2\\ -50 0.4 .2\\ -25 0.15 .2\\ 0 0 .2\\ 15 0.65 .35\\ 25 0.75 .5\\ 50 0.65 .5\\ 60 0.3 .5\\ 75 1.3 .5\\ 100 2.2 .3\\ 125 1.6 .6\\ 150 1.45 .6\\ 175 1.6 .6\\ 200 1.45 .6\\ 220 1.8 .6\\ 240 1.15 .6\\ 250 1.3 .6\\ 275 0.8 .45\\ 300 0.65 .35\\ 332 0.5 .3\\}
{x y e\\ -130 1 .3\\ -110 0 .3\\ -100 -0.65 .3\\ -75 0 .3\\ -50 0.5 .3\\ -25 0.3 .3\\ 0 -0.15 .3\\ 25 -0.4 .3\\ 50 -1 .5\\ 75 -1.6 .5\\ 100 -1.8 .5\\ 110 -1.6 .5\\ 125 -0.5 .4\\ 150 0.5 .3\\ 175 0.8 .3\\ 200 1 .3\\ 225 0.65 .3\\ 250 0.3 .3\\ 275 0.3 .3\\ 300 0.3 .3\\ 332 0.15 .3\\}
% Row 3
\panel{cA, at={(58.5pt,-698.3pt)}}{-15}{15}
{x y e\\ -130 -0.7 .6\\ -100 0.3 .6\\ -75 0.6 .6\\ -50 1 .6\\ -25 0.7 .6\\ 0 1 .6\\ 25 0.3 .7\\ 40 -0.15 .9\\ 60 1.8 1.1\\ 75 2.5 1.2\\ 100 3.2 1.2\\ 125 2.8 1.2\\ 150 1.8 1.1\\ 175 1.3 .8\\ 200 1.8 .7\\ 225 0.7 .6\\ 250 0.3 .6\\ 275 -0.15 .6\\ 300 0.3 .6\\ 332 -0.4 .6\\}
{x y e\\ -130 -1.9 .5\\ -110 -1.6 .5\\ -100 0.3 .5\\ -75 0.6 .5\\ -50 1 .5\\ -25 1 .5\\ 0 0.7 .5\\ 25 1 .5\\ 50 1.8 .5\\ 75 1.8 .5\\ 100 2.5 .5\\ 125 2.5 .5\\ 150 2.2 .5\\ 175 1.3 .5\\ 200 1 .5\\ 225 0.3 .5\\ 250 -0.4 .5\\ 275 -1.2 .5\\ 290 -2.6 .5\\ 300 -1.6 .5\\ 332 -1.9 .5\\}
\panel{cB, at={(210pt,-698.3pt)}}{-9.9}{15}
{x y e\\ -130 0 .5\\ -100 0.6 .5\\ -75 1 .5\\ -50 0.6 .5\\ -25 0.6 .5\\ 0 0.6 .5\\ 25 1 .5\\ 50 3 .7\\ 75 4.8 1\\ 90 5.4 1\\ 100 5 1\\ 125 3 .8\\ 150 1 .6\\ 175 0.25 .5\\ 200 0.6 .5\\ 225 0 .5\\ 250 0 .5\\ 275 0.25 .5\\ 300 -0.6 .5\\ 332 0 .5\\}
{x y e\\ -130 -1.8 .6\\ -110 -2.2 .6\\ -100 -0.6 .6\\ -75 0.25 .6\\ -50 0.6 .6\\ -25 0 .6\\ 0 0.25 .6\\ 25 1.2 .6\\ 50 3.6 .7\\ 75 5.4 .9\\ 90 5.8 .9\\ 100 4.2 .8\\ 125 2.4 .7\\ 150 -1 .6\\ 175 -2.6 .6\\ 200 -2.6 .6\\ 225 -2.2 .6\\ 250 -2.6 .6\\ 275 -4.2 .6\\ 290 -4.6 .6\\ 300 -3.4 .6\\ 332 -1.8 .6\\}
\panel{cC, at={(361.5pt,-698.3pt)}}{-2}{10}
{x y e\\ -130 0.45 .35\\ -115 -0.6 .35\\ -100 -0.25 .35\\ -75 -0.1 .35\\ -50 0.2 .35\\ -25 0.2 .35\\ 0 0.45 .35\\ 25 0.75 .4\\ 50 1.5 .6\\ 75 2.35 .7\\ 85 2.7 .7\\ 100 2.2 .7\\ 125 1.35 .6\\ 150 1.15 .4\\ 175 1.15 .35\\ 200 1.05 .35\\ 225 1.35 .35\\ 250 0.75 .35\\ 275 0.95 .35\\ 300 0.95 .35\\ 332 1.15 .35\\}
{x y e\\ -130 0.35 .35\\ -115 -0.6 .35\\ -100 -0.4 .35\\ -75 -0.1 .35\\ -50 0.35 .35\\ -25 0.75 .35\\ 0 0.35 .35\\ 25 0.75 .35\\ 50 1.9 .5\\ 75 3.3 .8\\ 85 3.5 .8\\ 100 2.8 .8\\ 125 1.75 .5\\ 150 1.65 .4\\ 175 0.75 .35\\ 200 0.45 .35\\ 225 0.2 .35\\ 240 -0.1 .35\\ 250 0.35 .35\\ 275 0.75 .35\\ 300 0.95 .35\\ 332 0.6 .35\\}
\panel{cD, at={(508pt,-698.3pt)}}{-2.67}{4}
{x y e\\ -130 -0.6 .25\\ -110 -0.7 .25\\ -100 0 .25\\ -75 0.4 .25\\ -50 0.3 .25\\ -35 0.4 .25\\ -25 0 .25\\ 0 -0.15 .25\\ 25 -0.15 .25\\ 50 0 .25\\ 75 0.25 .3\\ 90 0.65 .3\\ 100 0.6 .3\\ 125 -0.3 .4\\ 150 -1.3 .45\\ 175 -0.8 .45\\ 200 -0.6 .4\\ 225 -0.15 .35\\ 250 -0.8 .45\\ 275 -1 .5\\ 290 -1.45 .5\\ 300 -0.65 .45\\ 332 -0.3 .3\\}
{x y e\\ -130 0.8 .3\\ -115 1 .3\\ -100 0.65 .3\\ -75 0 .3\\ -60 -0.8 .3\\ -50 -0.7 .3\\ -25 0 .3\\ 0 -0.3 .3\\ 25 -0.7 .35\\ 50 -0.9 .45\\ 70 -1.6 .45\\ 80 -1 .45\\ 100 0 .4\\ 125 0.05 .35\\ 150 0.25 .4\\ 175 0.3 .45\\ 200 0.5 .45\\ 225 0.3 .45\\ 250 0.15 .35\\ 275 0 .3\\ 300 -0.25 .3\\ 315 0 .3\\ 332 0.25 .3\\}
% Row 4
\panel{cA, xl, at={(58.5pt,-777.3pt)}}{-15}{15}
{x y e\\ -130 -1.9 .6\\ -100 -0.45 .6\\ -75 0.45 .6\\ -50 1 .6\\ -25 0.7 .6\\ 0 0.45 .6\\ 25 -0.45 .7\\ 40 0 .8\\ 60 3.6 1.2\\ 75 5.4 1.3\\ 90 6.3 1.3\\ 100 5.4 1.3\\ 125 1.5 1\\ 150 -0.7 .7\\ 175 -1 .6\\ 200 0 .6\\ 225 -1 .6\\ 250 -1.9 .6\\ 275 -2.2 .6\\ 300 -2.9 .6\\ 332 -3.3 .6\\}
{x y e\\ -130 0 .5\\ -100 -0.45 .5\\ -75 0 .5\\ -50 0.45 .5\\ -25 0.7 .5\\ 0 1.9 .5\\ 25 2.2 .5\\ 40 2.5 .5\\ 50 2.2 .5\\ 75 0.7 .5\\ 90 -1 .5\\ 100 0.45 .5\\ 125 -0.45 .5\\ 150 -1 .5\\ 175 -1 .5\\ 200 -0.45 .5\\ 225 -1 .5\\ 250 -1 .5\\ 275 0 .5\\ 300 -1.5 .5\\ 332 -1 .5\\}
\panel{cB, xl, at={(210pt,-777.3pt)}}{-10.4}{15}
{x y e\\ -130 -1.1 .6\\ -100 -0.6 .6\\ -75 -0.25 .6\\ -50 -0.25 .6\\ -25 0.6 .6\\ 0 1.6 .6\\ 25 1.4 .6\\ 50 5.3 .8\\ 75 7.6 1.1\\ 90 8.4 1.2\\ 100 7.2 1.1\\ 125 2.2 .8\\ 150 -2.1 .8\\ 175 -4.3 1\\ 200 -3.1 1\\ 225 -2.7 1\\ 250 -3.3 1\\ 275 -4 .8\\ 300 -3.3 .7\\ 332 -2.7 .7\\}
{x y e\\ -130 -0.9 .6\\ -100 -0.6 .6\\ -75 -0.25 .6\\ -50 -0.25 .6\\ -25 0.1 .6\\ 0 0.6 .6\\ 25 1.4 .7\\ 50 5.3 .9\\ 75 6.6 1\\ 85 6.8 1\\ 100 5.6 1\\ 125 3.1 1\\ 150 0.4 .8\\ 175 -2.1 .7\\ 200 -2.4 .6\\ 225 -2.1 .6\\ 250 -2.4 .6\\ 275 -2.7 .6\\ 300 -2.1 .6\\ 332 -1.9 .6\\}
\panel{cC, xl, at={(361.5pt,-777.3pt)}}{-2.2}{10}
{x y e\\ -130 0.3 .5\\ -115 -0.3 .5\\ -100 -0.1 .5\\ -75 0.1 .5\\ -50 -0.1 .5\\ -25 -0.5 .5\\ -10 -0.1 .5\\ 0 0.5 .5\\ 25 0.9 .7\\ 50 2.1 1.3\\ 75 2.85 1.4\\ 90 2.85 1.4\\ 100 2.5 1.4\\ 125 1.2 1.3\\ 150 -0.3 1\\ 175 0.3 .6\\ 200 0.5 .5\\ 225 0.3 .5\\ 250 0 .5\\ 275 0.3 .5\\ 300 0.3 .5\\ 332 0.1 .5\\}
{x y e\\ -130 0 .4\\ -110 0.7 .4\\ -100 0.7 .4\\ -75 0.3 .4\\ -50 -0.1 .4\\ -25 -0.6 .4\\ -10 -1.1 .4\\ 0 -0.5 .4\\ 25 0.5 .6\\ 50 1.9 1.2\\ 75 3.45 1.5\\ 90 3.3 1.5\\ 100 2.5 1.4\\ 125 1.2 1\\ 150 0 .7\\ 175 -0.6 .6\\ 200 -0.3 .5\\ 225 -0.6 .5\\ 250 0.1 .5\\ 275 0.9 .7\\ 290 1.5 .7\\ 300 1.2 .6\\ 332 0.3 .4\\}
\panel{cD, xl, at={(508pt,-777.3pt)}}{-2.5}{4}
{x y e\\ -130 0.9 .3\\ -110 0.65 .3\\ -100 0.5 .3\\ -75 0.75 .3\\ -60 -0.05 .3\\ -50 -0.55 .3\\ -25 -0.55 .3\\ -10 -0.85 .3\\ 0 -0.7 .4\\ 25 -0.4 .4\\ 50 0.25 .45\\ 75 1.2 .45\\ 90 1.85 .4\\ 100 2 .3\\ 125 2.1 .3\\ 140 1.7 .35\\ 150 1.2 .4\\ 175 0.65 .5\\ 200 -0.05 .55\\ 225 0 .55\\ 250 0.25 .5\\ 260 1.05 .4\\ 275 1.7 .35\\ 290 1.2 .3\\ 300 1.05 .3\\ 315 1.2 .3\\ 332 1.05 .3\\}
{x y e\\ -130 -0.2 .3\\ -110 -0.55 .3\\ -100 0 .3\\ -75 0.5 .3\\ -50 0.3 .3\\ -25 0.25 .3\\ 0 -0.2 .3\\ 25 -0.2 .4\\ 50 -0.4 .6\\ 70 0.1 .6\\ 80 -0.4 .6\\ 100 -1 .6\\ 115 -0.4 .6\\ 125 0.55 .5\\ 150 1.7 .4\\ 175 2.15 .5\\ 190 2 .5\\ 200 1.85 .5\\ 225 1.6 .5\\ 250 1.2 .45\\ 275 1.05 .3\\ 290 0.95 .3\\ 300 1.2 .3\\ 315 1.05 .3\\ 332 1.5 .3\\}
\end{tikzpicture}
\end{document}
